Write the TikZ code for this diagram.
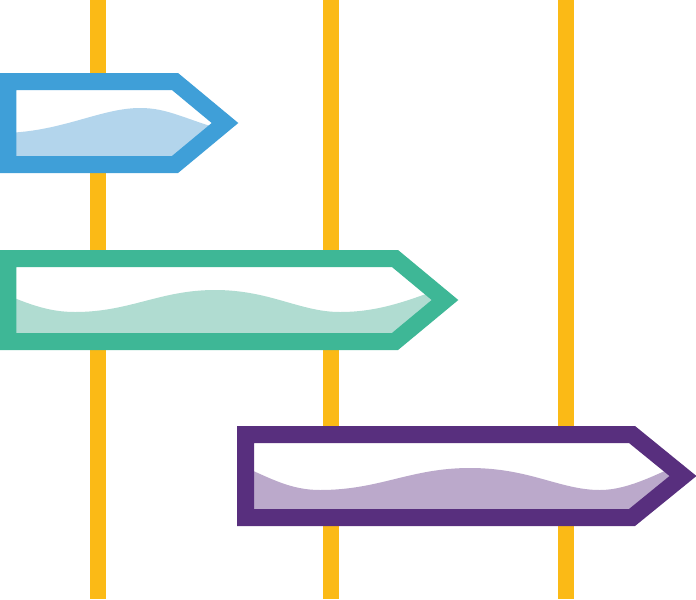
\documentclass[tikz,border=0pt]{standalone}
\usepackage{tikz}
\definecolor{jaune}{HTML}{FBBA16}
\definecolor{cbleu}{HTML}{3F9FD8}
\definecolor{pbleu}{HTML}{B3D5EC}
\definecolor{cvert}{HTML}{3EB796}
\definecolor{pvert}{HTML}{B0DCD1}
\definecolor{cviol}{HTML}{582F7E}
\definecolor{pviol}{HTML}{BBA9CB}
\begin{document}
\begin{tikzpicture}[x=0.02cm, y=-0.02cm]
  \tikzstyle{rail}=[draw=jaune, line width=0.32cm]
  \tikzstyle{fleche}=[line width=0.34cm, line join=miter]
  \useasboundingbox (0,0) rectangle (696,599);
  \clip (0,0) rectangle (696,599);

	% rails
	\foreach \x in {98,331,566}
		\draw[rail] (\x,0) -- (\x,599);

	% blue arrow
	\fill[white] (8,81.5) -- (175,81.5) -- (225,123) -- (175,164.5) -- (8,164.5) -- cycle;
	\begin{scope}
		\clip (8,81.5) -- (175,81.5) -- (225,123) -- (175,164.5) -- (8,164.5) -- cycle;
		\fill[pbleu] (0,133) .. controls (60,133) and (100,108) .. (140,108)
			.. controls (170,108) and (185,120) .. (240,135) -- (240,170) -- (0,170) -- cycle;
	\end{scope}
	\draw[fleche, cbleu] (8,81.5) -- (175,81.5) -- (225,123) -- (175,164.5) -- (8,164.5) -- cycle;

	% green arrow
	\fill[white] (8,258.5) -- (395,258.5) -- (445,300) -- (395,341.5) -- (8,341.5) -- cycle;
	\begin{scope}
		\clip (8,258.5) -- (395,258.5) -- (445,300) -- (395,341.5) -- (8,341.5) -- cycle;
		\fill[pvert] (0,292) .. controls (30,305) and (50,312) .. (75,312)
			.. controls (130,312) and (160,290) .. (215,290)
			.. controls (270,290) and (300,312) .. (340,312)
			.. controls (380,312) and (410,300) .. (450,285) -- (450,350) -- (0,350) -- cycle;
	\end{scope}
	\draw[fleche, cvert] (8,258.5) -- (395,258.5) -- (445,300) -- (395,341.5) -- (8,341.5) -- cycle;

	% purple arrow
	\fill[white] (245.5,434.5) -- (632,434.5) -- (683,476) -- (632,517.5) -- (245.5,517.5) -- cycle;
	\begin{scope}
		\clip (245.5,434.5) -- (632,434.5) -- (683,476) -- (632,517.5) -- (245.5,517.5) -- cycle;
		\fill[pviol] (240,465) .. controls (270,478) and (290,490) .. (320,490)
			.. controls (380,490) and (410,468) .. (470,468)
			.. controls (530,468) and (560,490) .. (600,490)
			.. controls (630,490) and (660,472) .. (690,460) -- (690,530) -- (240,530) -- cycle;
	\end{scope}
	\draw[fleche, cviol] (245.5,434.5) -- (632,434.5) -- (683,476) -- (632,517.5) -- (245.5,517.5) -- cycle;

\end{tikzpicture}
\end{document}
